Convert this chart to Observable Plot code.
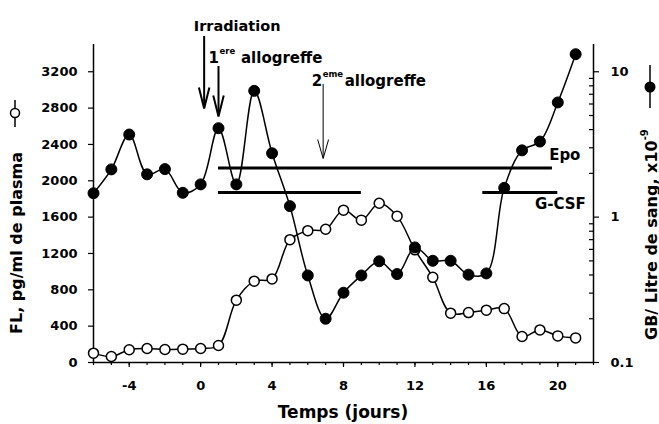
<!DOCTYPE html>
<html><head><meta charset="utf-8">
<script src="https://cdn.jsdelivr.net/npm/d3@7"></script>
<script src="https://cdn.jsdelivr.net/npm/@observablehq/plot@0.6"></script>
<style>html,body{margin:0;padding:0;background:#fff}</style>
</head><body><div id="chart"></div>
<script>
// ---- data ----
const days = [-6,-5,-4,-3,-2,-1,0,1,2,3,4,5,6,7,8,9,10,11,12,13,14,15,16,17,18,19,20,21];
// FL, pg/ml de plasma (left axis, open circles)
const flValues = [103,66,140,154,143,147,154,187,686,895,920,1352,1451,1466,1677,1567,1753,1611,1240,937,543,549,576,593,286,359,293,271];
// GB / Litre de sang x10^-9 (right log axis, filled circles)
const gbValues = [1.46,2.13,3.70,1.97,2.14,1.47,1.68,4.09,1.68,7.39,2.75,1.19,0.397,0.200,0.302,0.397,0.497,0.406,0.619,0.501,0.501,0.402,0.410,1.59,2.88,3.31,6.15,13.2];
const xMajorTicks = [-4,0,4,8,12,16,20];
const xMinorTicks = [-6,-5,-4,-3,-2,-1,0,1,2,3,4,5,6,7,8,9,10,11,12,13,14,15,16,17,18,19,20,21,22];
const flTicks = [0,400,800,1200,1600,2000,2400,2800,3200];
const gbMajorTicks = [0.1,1,10];
const gbTickLabels = ["0.1","1","10"];
const gbMinorTicks = [0.2,0.3,0.4,0.5,0.6,0.7,0.8,0.9,2,3,4,5,6,7,8,9];
const treatNames = ["Epo","G-CSF","G-CSF"];
const treatStart = [1,1,15.8];
const treatEnd = [19.7,9,20];
const treatLevel = [2141,1871,1871];

// right log axis (0.1 .. 10) shares the left axis (0 .. 3200)
const toLeft = v => (Math.log10(v) + 1) * 1600;

const fl = days.map((d, i) => ({day: d, value: flValues[i]}));
const gb = days.map((d, i) => ({day: d, value: gbValues[i], y: toLeft(gbValues[i])}));
const treatments = treatNames.map((n, i) => ({name: n, start: treatStart[i], end: treatEnd[i], level: treatLevel[i]}));

const vHead = (half) => ({draw(ctx, size) {
  const l = Math.sqrt(size / Math.PI);
  const w = l * Math.tan(half * Math.PI / 180);
  ctx.moveTo(-w, -l); ctx.lineTo(0, 0); ctx.lineTo(w, -l);
}});

const chart = Plot.plot({
  width: 659, height: 424,
  marginLeft: 93, marginRight: 66, marginTop: 44, marginBottom: 62,
  style: {fontFamily: "DejaVu Sans", fontSize: "13px", fontWeight: "bold", background: "white", color: "black"},
  x: {domain: [-6, 22]},
  y: {domain: [0, 3500]},
  marks: [
    Plot.ruleY([0], {strokeWidth: 1.5}),
    Plot.ruleX([-6, 22], {strokeWidth: 1.5}),
    Plot.axisX(xMinorTicks, {tickSize: 3, tickFormat: () => "", label: null, strokeWidth: 1.2}),
    Plot.axisX(xMajorTicks, {tickSize: 5, tickPadding: 13, label: null, strokeWidth: 1.2, tickFormat: d => String(d)}),
    Plot.axisY(flTicks, {anchor: "left", tickSize: 5, tickPadding: 11, label: null, strokeWidth: 1.2, tickFormat: d => String(d)}),
    Plot.axisY(gbMajorTicks.map(toLeft), {anchor: "right", tickSize: 5, tickPadding: 12, label: null, strokeWidth: 1.2,
      tickFormat: v => gbTickLabels[gbMajorTicks.findIndex(t => Math.abs(toLeft(t) - v) < 1e-6)]}),
    Plot.axisY(gbMinorTicks.map(toLeft), {anchor: "right", tickSize: -5, tickFormat: () => "", label: null, strokeWidth: 1.2}),
    // treatment bars
    Plot.ruleY(treatments, {y: "level", x1: "start", x2: "end", strokeWidth: 3}),
    Plot.text(treatments.slice(0, 1), {x: "end", y: "level", text: "name", textAnchor: "end", dx: 28, dy: -13, fontSize: 15}),
    Plot.text(treatments.slice(2, 3), {x: "end", y: "level", text: "name", textAnchor: "end", dx: 28, dy: 12, fontSize: 15}),
    // FL series
    Plot.line(fl, {x: "day", y: "value", curve: "catmull-rom", strokeWidth: 1.5}),
    Plot.dot(fl, {x: "day", y: "value", r: 5, fill: "white", stroke: "black", strokeWidth: 1.5}),
    // GB series
    Plot.line(gb, {x: "day", y: "y", curve: "catmull-rom", strokeWidth: 1.5}),
    Plot.dot(gb, {x: "day", y: "y", r: 5.5, fill: "black", stroke: "black", strokeWidth: 1}),
    // event arrows
    Plot.ruleX([0], {y1: 3588, y2: 2800, dx: 3.5, strokeWidth: 2}),
    Plot.dot([0], {x: d => d, y: 2795, dx: 3.5, symbol: vHead(14), r: 21, fill: "none", stroke: "black", strokeWidth: 2}),
    Plot.ruleX([1], {y1: 3258, y2: 2712, strokeWidth: 2}),
    Plot.dot([1], {x: d => d, y: 2707, symbol: vHead(14), r: 21, fill: "none", stroke: "black", strokeWidth: 2}),
    Plot.ruleX([7], {y1: 3060, y2: 2250, dx: -2.5, strokeWidth: 1}),
    Plot.dot([7], {x: d => d, y: 2245, dx: -2.5, symbol: vHead(16), r: 19, fill: "none", stroke: "black", strokeWidth: 1}),
    // event labels
    Plot.text(["Irradiation"], {x: () => 0, frameAnchor: "top", dx: 36.5, dy: -24, fontSize: 14.5, textAnchor: "middle"}),
    Plot.text(["1"], {x: () => 1, frameAnchor: "top", dx: -10, dy: 8, fontSize: 15, textAnchor: "start"}),
    Plot.text(["ere"], {x: () => 1, frameAnchor: "top", dx: 1, dy: 3, fontSize: 8.5, textAnchor: "start"}),
    Plot.text(["allogreffe"], {x: () => 1, frameAnchor: "top", dx: 22.5, dy: 8, fontSize: 15, textAnchor: "start"}),
    Plot.text(["2"], {x: () => 7, frameAnchor: "top", dx: -14, dy: 31, fontSize: 15, textAnchor: "start"}),
    Plot.text(["eme"], {x: () => 7, frameAnchor: "top", dx: -3, dy: 26, fontSize: 8.5, textAnchor: "start"}),
    Plot.text(["allogreffe"], {x: () => 7, frameAnchor: "top", dx: 19, dy: 31, fontSize: 15, textAnchor: "start"})
  ]
});
document.getElementById("chart").appendChild(chart);

// axis titles and legend glyphs
const svg = d3.select(chart);
const xr = chart.scale("x").range;
const g = svg.append("g").attr("font-family", "DejaVu Sans").attr("font-weight", "bold").attr("fill", "black");
g.append("text").attr("x", (xr[0] + xr[1]) / 2).attr("y", 412)
  .attr("text-anchor", "middle").attr("dominant-baseline", "central").attr("font-size", 17).text("Temps (jours)");
g.append("text").attr("transform", "translate(16,243) rotate(-90)")
  .attr("text-anchor", "middle").attr("dominant-baseline", "central").attr("font-size", 16).text("FL, pg/ml de plasma");
const rt = g.append("text").attr("transform", "translate(651,340) rotate(-90)")
  .attr("text-anchor", "start").attr("dominant-baseline", "central").attr("font-size", 16);
rt.append("tspan").text("GB/ Litre de sang, x10");
rt.append("tspan").attr("font-size", 10).attr("dy", -7).text("-9");
// legend glyphs
g.append("line").attr("x1", 15).attr("x2", 15).attr("y1", 100).attr("y2", 127).attr("stroke", "black").attr("stroke-width", 1.5);
g.append("circle").attr("cx", 15).attr("cy", 113).attr("r", 4.5).attr("fill", "white").attr("stroke", "black").attr("stroke-width", 1.5);
g.append("line").attr("x1", 650).attr("x2", 650).attr("y1", 65).attr("y2", 108).attr("stroke", "black").attr("stroke-width", 1.5);
g.append("circle").attr("cx", 650).attr("cy", 87).attr("r", 5.5).attr("fill", "black");
</script>
</body></html>
